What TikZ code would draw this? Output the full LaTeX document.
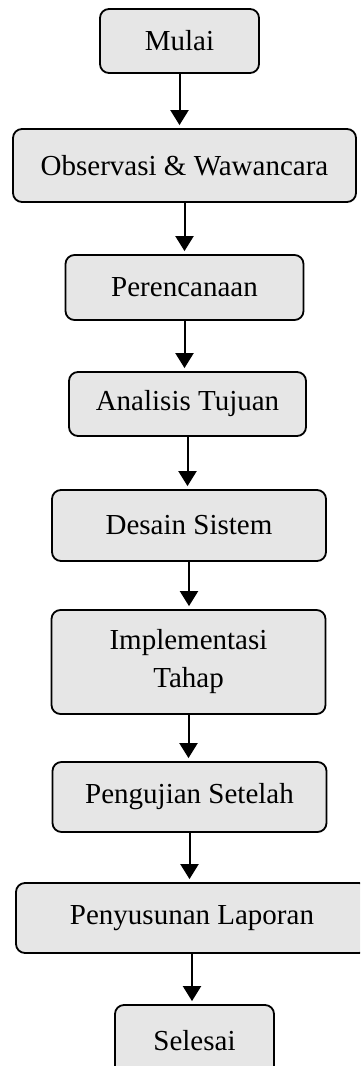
\documentclass[tikz,border=0pt]{standalone}
\usepackage{fontspec}
\setmainfont{Liberation Serif}
\usetikzlibrary{arrows.meta}
\definecolor{boxfill}{HTML}{E6E6E6}
\tikzset{
  box/.style={draw=black, fill=boxfill, line width=1.8pt, rounded corners=9pt,
    inner sep=0pt, align=center, font=\fontsize{29}{38}\selectfont},
  arr/.style={line width=2pt, -{Triangle[width=18pt,length=15pt]}, shorten >=3pt}
}
\begin{document}
\begin{tikzpicture}[x=1pt,y=-1pt]
\useasboundingbox (0,0) rectangle (360,1066);
\clip (0,0) rectangle (360,1066);
\node[box, minimum width=159pt, minimum height=64pt] (n1) at (179.5,41) {Mulai};
\node[box, minimum width=343pt, minimum height=73pt] (n2) at (184.5,165.5) {Observasi \& Wawancara};
\node[box, minimum width=238pt, minimum height=65pt] (n3) at (184.5,287.5) {Perencanaan};
\node[box, minimum width=237pt, minimum height=64pt] (n4) at (187.5,404) {Analisis Tujuan};
\node[box, minimum width=274pt, minimum height=71pt] (n5) at (189,525.5) {Desain Sistem};
\node[box, minimum width=274pt, minimum height=104pt] (n6) at (188.5,662) {Implementasi\\Tahap};
\node[box, minimum width=274pt, minimum height=70pt] (n7) at (189.5,797) {Pengujian Setelah};
\node[box, minimum width=352pt, minimum height=70pt] (n8) at (192,918) {Penyusunan Laporan};
\node[box, minimum width=159pt, minimum height=72pt] (n9) at (194.5,1041) {Selesai};
\draw[arr] (n1.south) -- (n1.south |- n2.north);
\draw[arr] (n2.south) -- (n2.south |- n3.north);
\draw[arr] (n3.south) -- (n3.south |- n4.north);
\draw[arr] (n4.south) -- (n4.south |- n5.north);
\draw[arr] (n5.south) -- (n5.south |- n6.north);
\draw[arr] (n6.south) -- (n6.south |- n7.north);
\draw[arr] (n7.south) -- (n7.south |- n8.north);
\draw[arr] (n8.south) -- (n8.south |- n9.north);
\end{tikzpicture}
\end{document}
